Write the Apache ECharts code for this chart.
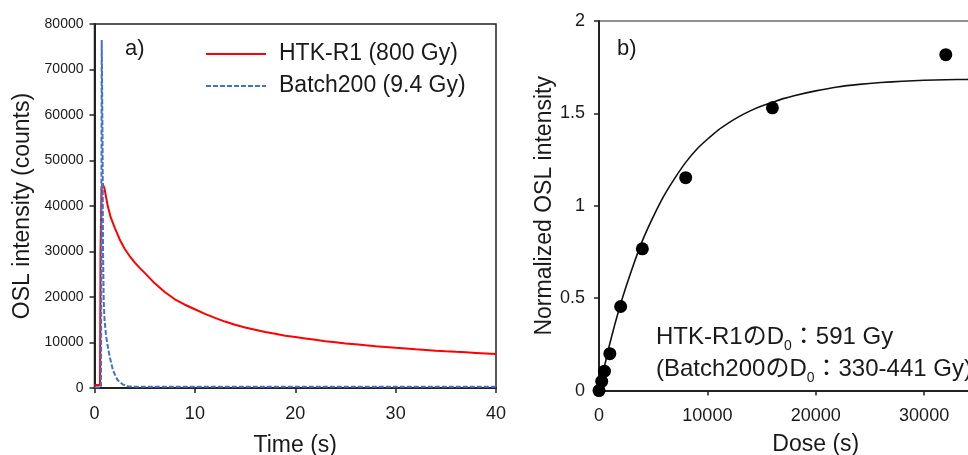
<!DOCTYPE html>
<html>
<head>
<meta charset="utf-8">
<script src="https://cdn.jsdelivr.net/npm/echarts@6/dist/echarts.min.js"></script>
<style>html,body{margin:0;padding:0;background:#fff;}#c{width:968px;height:455px;}</style>
</head>
<body>
<div id="c"></div>
<script>
// ---- Panel a) OSL decay curves ----
var redTime = [0, 0.55, 0.6, 0.7, 0.8, 1.0, 1.3, 1.6, 2, 2.5, 3, 3.5, 4, 4.5, 5, 6, 7, 8, 9, 10, 11, 12, 13, 14, 15, 16, 17, 18, 19, 20, 21, 22, 23, 24, 25, 26, 27, 28, 29, 30, 31, 32, 33, 34, 35, 36, 37, 38, 39, 40];
var redCounts = [650, 650, 30000, 43500, 45000, 43800, 40200, 37600, 35300, 32700, 30600, 29000, 27600, 26400, 25300, 23000, 21100, 19500, 18300, 17300, 16300, 15400, 14600, 13900, 13300, 12800, 12300, 11900, 11500, 11200, 10900, 10600, 10300, 10050, 9800, 9600, 9380, 9180, 9000, 8820, 8660, 8500, 8350, 8200, 8060, 7940, 7830, 7710, 7590, 7470];
var blueTime = [0, 0.65, 0.72, 0.76, 0.8, 0.85, 0.92, 1.0, 1.15, 1.33, 1.5, 1.83, 2.1, 2.3, 2.8, 3.3, 4, 5, 10, 20, 30, 40];
var blueCounts = [150, 150, 76500, 76500, 55000, 30000, 19000, 15000, 11500, 9100, 7000, 4000, 2600, 1750, 800, 400, 300, 250, 250, 250, 250, 250];
var timeTicks = [0, 10, 20, 30, 40];
var countTicks = [0, 10000, 20000, 30000, 40000, 50000, 60000, 70000, 80000];

// ---- Panel b) dose response ----
var doses = [0, 250, 500, 1000, 2000, 4000, 8000, 16000, 32000];
var normOSL = [0, 0.05, 0.105, 0.2, 0.455, 0.767, 1.152, 1.53, 1.818];
var fitDose = [0, 1000, 2000, 3000, 4000, 5000, 6000, 7000, 8000, 9000, 10000, 11000, 12000, 13000, 14000, 15000, 16000, 17000, 18000, 20000, 22000, 24000, 26000, 28000, 30000, 32000, 34000, 36000, 38000, 40000];
var fitValue = [0, 0.255, 0.47, 0.65, 0.81, 0.94, 1.055, 1.15, 1.235, 1.305, 1.36, 1.41, 1.45, 1.485, 1.515, 1.54, 1.56, 1.58, 1.596, 1.622, 1.643, 1.657, 1.667, 1.674, 1.679, 1.682, 1.684, 1.686, 1.687, 1.688];

var seriesNames = ['HTK-R1 (800 Gy)', 'Batch200 (9.4 Gy)'];

function pairs(xs, ys) { return xs.map(function (x, i) { return [x, ys[i]]; }); }
function plain(v) { return String(v); }

var FONT = '"Liberation Sans", Arial, "Noto Sans CJK JP", sans-serif';
var TXT = '#1a1a1a';

var chart = echarts.init(document.getElementById('c'), null, { renderer: 'canvas' });
chart.setOption({
  animation: false,
  backgroundColor: '#fff',
  textStyle: { fontFamily: FONT, color: TXT },
  grid: [
    { left: 94.5, top: 24, width: 401.5, height: 364, show: true, borderColor: '#222', borderWidth: 1.5, containLabel: false, outerBoundsMode: 'none' },
    { left: 599, top: 21, width: 433.5, height: 369.6, show: true, borderColor: '#222', borderWidth: 1.2, containLabel: false, outerBoundsMode: 'none' }
  ],
  legend: {
    data: seriesNames,
    orient: 'vertical',
    left: 205, top: 42, padding: 0,
    itemWidth: 60, itemHeight: 14, itemGap: 8,
    itemStyle: { opacity: 0 },
    textStyle: { fontSize: 23, fontFamily: FONT, color: TXT, lineHeight: 24, padding: [0, 0, 0, 8] }
  },
  xAxis: [
    {
      gridIndex: 0, type: 'value', min: timeTicks[0], max: timeTicks[timeTicks.length - 1], interval: 10,
      name: 'Time (s)', nameLocation: 'middle', nameGap: 46,
      nameTextStyle: { fontSize: 23, fontFamily: FONT, color: TXT },
      axisLine: { lineStyle: { color: '#222', width: 2 } },
      axisTick: { show: true, inside: false, length: 5, lineStyle: { color: '#222', width: 1.5 } },
      axisLabel: { fontSize: 18, margin: 17, color: TXT, fontFamily: FONT, formatter: plain },
      splitLine: { show: false }
    },
    {
      gridIndex: 1, type: 'value', min: 0, max: 40000, interval: 10000,
      name: 'Dose (s)', nameLocation: 'middle', nameGap: 43,
      nameTextStyle: { fontSize: 23, fontFamily: FONT, color: TXT },
      axisLine: { lineStyle: { color: '#222', width: 2.2 } },
      axisTick: { show: true, inside: false, length: 5, lineStyle: { color: '#222', width: 1.5 } },
      axisLabel: { fontSize: 18, margin: 16, color: TXT, fontFamily: FONT, formatter: plain },
      splitLine: { show: false }
    }
  ],
  yAxis: [
    {
      gridIndex: 0, type: 'value', min: countTicks[0], max: countTicks[countTicks.length - 1], interval: 10000,
      name: 'OSL intensity (counts)', nameLocation: 'middle', nameGap: 60,
      nameTextStyle: { fontSize: 23, fontFamily: FONT, color: TXT },
      axisLine: { show: true, lineStyle: { color: '#222', width: 2 } },
      axisTick: { show: true, inside: false, length: 5, lineStyle: { color: '#222', width: 1.5 } },
      axisLabel: { fontSize: 14, margin: 11, color: TXT, fontFamily: FONT, formatter: plain },
      splitLine: { show: false }
    },
    {
      gridIndex: 1, type: 'value', min: 0, max: 2, interval: 0.5,
      name: 'Normalized OSL intensity', nameLocation: 'middle', nameGap: 42,
      nameTextStyle: { fontSize: 23, fontFamily: FONT, color: TXT },
      axisLine: { show: true, lineStyle: { color: '#222', width: 2 } },
      axisTick: { show: true, inside: false, length: 5, lineStyle: { color: '#222', width: 1.5 } },
      axisLabel: { fontSize: 18, margin: 14, color: TXT, fontFamily: FONT, formatter: plain },
      splitLine: { show: false }
    }
  ],
  series: [
    {
      name: seriesNames[0], type: 'line', xAxisIndex: 0, yAxisIndex: 0,
      data: pairs(redTime, redCounts), symbol: 'none', showSymbol: false,
      lineStyle: { color: '#ff0000', width: 2 }, itemStyle: { color: '#ff0000' }, z: 3
    },
    {
      name: seriesNames[1], type: 'line', xAxisIndex: 0, yAxisIndex: 0,
      data: pairs(blueTime, blueCounts), symbol: 'none', showSymbol: false,
      lineStyle: { color: '#4472c4', width: 2, type: [5, 2] }, itemStyle: { color: '#4472c4' }, z: 4
    },
    {
      name: 'fit', type: 'line', xAxisIndex: 1, yAxisIndex: 1,
      data: pairs(fitDose, fitValue), symbol: 'none', smooth: 0.2,
      lineStyle: { color: '#111', width: 1.6 }, z: 3
    },
    {
      name: 'data', type: 'scatter', xAxisIndex: 1, yAxisIndex: 1,
      data: pairs(doses, normOSL), symbol: 'circle', symbolSize: 13,
      itemStyle: { color: '#000', opacity: 1 }, z: 4
    }
  ],
  graphic: [
    { type: 'text', left: 125, top: 38, style: { text: 'a)', font: '22px ' + FONT, fill: TXT } },
    { type: 'text', left: 617, top: 38, style: { text: 'b)', font: '22px ' + FONT, fill: TXT } },
    {
      type: 'text', left: 656, top: 325,
      style: {
        text: '{m|HTK-R1のD}{s|0}{m|：591 Gy}\n{m|(Batch200のD}{s|0}{m|：330-441 Gy)}',
        fill: TXT,
        rich: {
          m: { fontSize: 24, fontFamily: FONT, lineHeight: 32, fill: TXT },
          s: { fontSize: 14, fontFamily: FONT, lineHeight: 16, verticalAlign: 'bottom', fill: TXT }
        }
      }
    }
  ]
});
</script>
</body>
</html>
